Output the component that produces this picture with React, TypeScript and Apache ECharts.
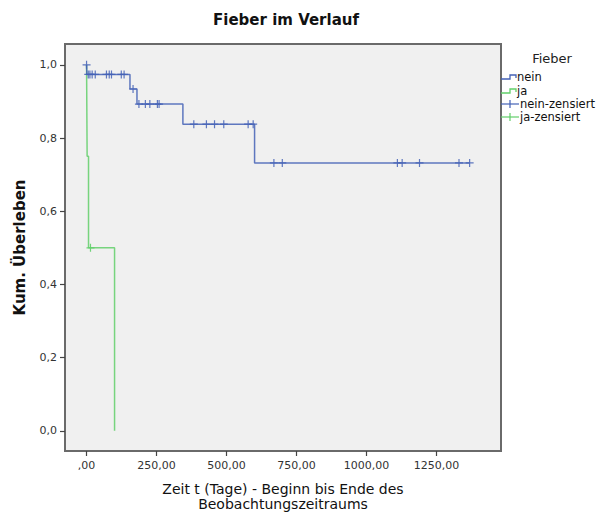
import React, { useEffect, useRef } from "react";
import * as echarts from "echarts";

// Kaplan-Meier steps (time in days, cumulative survival after event)
const neinTimes = [0, 1, 155, 180, 344, 600, 1368];
const neinSurv = [1.0, 0.974, 0.934, 0.893, 0.838, 0.732, 0.732];
const jaTimes = [0, 2, 7, 100];
const jaSurv = [1.0, 0.75, 0.5, 0.0];

// Censored observations (days)
const neinCensTimes = [0, 6, 12, 20, 31, 71, 81, 89, 124, 134, 166, 187, 210, 226, 253, 259, 383, 428, 457, 490, 577, 595, 669, 699, 1110, 1127, 1189, 1330, 1368];
const jaCensTimes = [14];

const xTicks = [0, 250, 500, 750, 1000, 1250];
const yTicks = [0, 0.2, 0.4, 0.6, 0.8, 1.0];

const BLUE = "#4462B6";
const GREEN = "#62CF6A";
const FONT = "DejaVu Sans";

function survAt(times: number[], surv: number[], t: number): number {
  let v = surv[0];
  for (let i = 0; i < times.length; i++) {
    if (times[i] <= t) v = surv[i];
  }
  return v;
}

const PLUS = "path://M5,0 L5,10 M0,5 L10,5";

export default function App() {
  const ref = useRef<HTMLDivElement>(null);
  useEffect(() => {
    if (!ref.current) return;
    const chart = echarts.init(ref.current, undefined, { renderer: "svg" });
    const neinLine = neinTimes.map((t, i) => [t, neinSurv[i]]);
    const jaLine = jaTimes.map((t, i) => [t, jaSurv[i]]);
    const neinCens = neinCensTimes.map((t) => [t, survAt(neinTimes, neinSurv, t)]);
    const jaCens = jaCensTimes.map((t) => [t, survAt(jaTimes, jaSurv, t)]);

    const legendX = 501;
    const graphic: any[] = [
      {
        type: "text", x: 286, y: 20,
        style: { text: "Fieber im Verlauf", font: `bold 15px "${FONT}"`, fill: "#111", align: "center", verticalAlign: "middle" },
      },
      {
        type: "text", x: 552, y: 58,
        style: { text: "Fieber", font: `13px "${FONT}"`, fill: "#222", align: "center", verticalAlign: "middle" },
      },
      {
        type: "polyline", shape: { points: [[legendX, 79], [legendX + 9, 79], [legendX + 9, 75], [legendX + 15, 75], [legendX + 15, 78]] },
        style: { stroke: BLUE, lineWidth: 1.3, fill: null },
      },
      {
        type: "text", x: legendX + 16, y: 77,
        style: { text: "nein", font: `11.5px "${FONT}"`, fill: "#111", verticalAlign: "middle" },
      },
      {
        type: "polyline", shape: { points: [[legendX, 93], [legendX + 9, 93], [legendX + 9, 89], [legendX + 15, 89], [legendX + 15, 92]] },
        style: { stroke: GREEN, lineWidth: 1.3, fill: null },
      },
      {
        type: "text", x: legendX + 16, y: 91,
        style: { text: "ja", font: `11.5px "${FONT}"`, fill: "#111", verticalAlign: "middle" },
      },
      { type: "line", shape: { x1: legendX, y1: 104, x2: legendX + 18, y2: 104 }, style: { stroke: BLUE, lineWidth: 1.2 } },
      { type: "line", shape: { x1: legendX + 9, y1: 100, x2: legendX + 9, y2: 108 }, style: { stroke: BLUE, lineWidth: 1.2 } },
      {
        type: "text", x: legendX + 19, y: 104,
        style: { text: "nein-zensiert", font: `11.5px "${FONT}"`, fill: "#111", verticalAlign: "middle" },
      },
      { type: "line", shape: { x1: legendX, y1: 117, x2: legendX + 18, y2: 117 }, style: { stroke: GREEN, lineWidth: 1.2 } },
      { type: "line", shape: { x1: legendX + 9, y1: 113, x2: legendX + 9, y2: 121 }, style: { stroke: GREEN, lineWidth: 1.2 } },
      {
        type: "text", x: legendX + 19, y: 117,
        style: { text: "ja-zensiert", font: `11.5px "${FONT}"`, fill: "#111", verticalAlign: "middle" },
      },
    ];

    chart.setOption({
      animation: false,
      backgroundColor: "#ffffff",
      textStyle: { fontFamily: FONT },
      grid: {
        left: 65, top: 44, right: 100, bottom: 62,
        outerBoundsMode: "none",
        containLabel: false,
        show: true, backgroundColor: "#F0F0F0", borderColor: "#6a6a6a", borderWidth: 2,
      },
      xAxis: {
        type: "value",
        min: -77, max: 1480,
        name: "Zeit t (Tage) - Beginn bis Ende des\nBeobachtungszeitraums",
        nameLocation: "middle",
        nameGap: 31,
        nameTextStyle: { fontSize: 14, color: "#111", lineHeight: 14.5, fontFamily: FONT },
        axisLine: { show: false, onZero: false },
        splitLine: { show: false },
        axisTick: { show: true, customValues: xTicks, length: 5, lineStyle: { color: "#444", width: 1.2 } },
        axisLabel: {
          customValues: xTicks, fontSize: 11, color: "#333", margin: 9, fontFamily: FONT,
          formatter: (v: number) => (v === 0 ? ",00" : v.toFixed(2).replace(".", ",")),
        },
      },
      yAxis: {
        type: "value",
        min: -0.055, max: 1.057,
        name: "Kum. Überleben",
        nameLocation: "middle",
        nameGap: 38,
        nameRotate: 90,
        nameTextStyle: { fontSize: 15, fontWeight: "bold", color: "#111", fontFamily: FONT },
        axisLine: { show: false, onZero: false },
        splitLine: { show: false },
        axisTick: { show: true, customValues: yTicks, length: 5, lineStyle: { color: "#444", width: 1.2 } },
        axisLabel: {
          customValues: yTicks, fontSize: 11, color: "#333", margin: 8, fontFamily: FONT,
          formatter: (v: number) => v.toFixed(1).replace(".", ","),
        },
      },
      series: [
        {
          name: "nein", type: "line", step: "end", data: neinLine, showSymbol: false,
          lineStyle: { color: BLUE, width: 1.5, opacity: 0.85 }, z: 3,
        },
        {
          name: "ja", type: "line", step: "end", data: jaLine, showSymbol: false,
          lineStyle: { color: GREEN, width: 1.5, opacity: 0.85 }, z: 2,
        },
        {
          name: "nein-zensiert", type: "scatter", data: neinCens, symbol: PLUS, symbolSize: [8, 8],
          itemStyle: { color: "transparent", borderColor: BLUE, borderWidth: 1.2, opacity: 0.85 }, z: 4,
        },
        {
          name: "ja-zensiert", type: "scatter", data: jaCens, symbol: PLUS, symbolSize: [8, 8],
          itemStyle: { color: "transparent", borderColor: GREEN, borderWidth: 1.2, opacity: 0.9 }, z: 4,
        },
      ],
      graphic,
    });
    return () => chart.dispose();
  }, []);
  return <div ref={ref} style={{ position: "fixed", left: 0, top: 0, width: 601, height: 513 }} />;
}
